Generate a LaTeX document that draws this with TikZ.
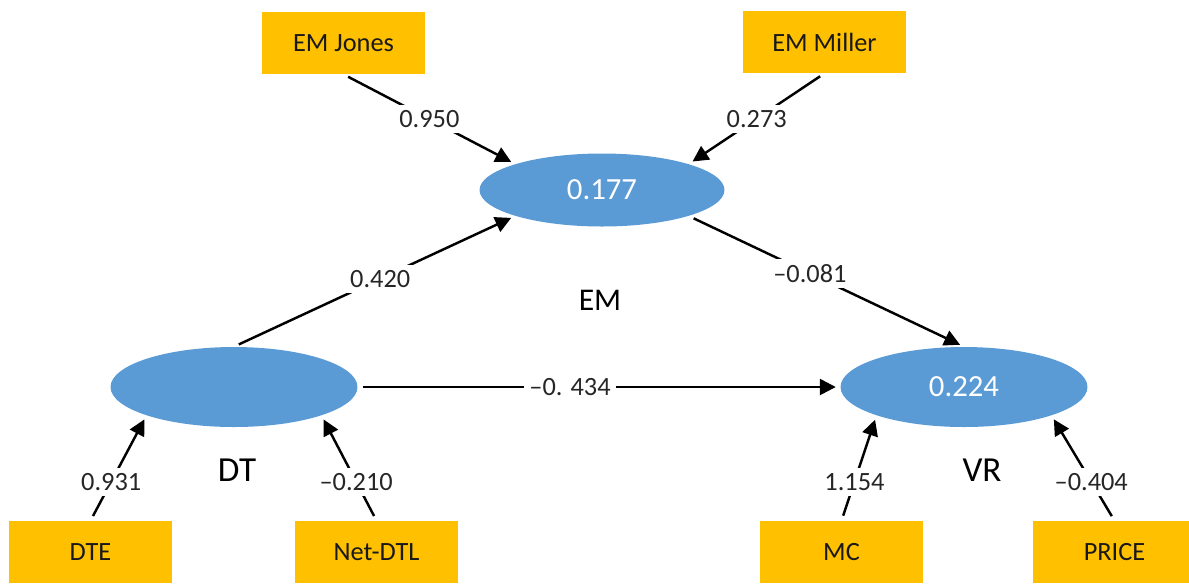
\documentclass[tikz,border=0pt]{standalone}
\usepackage{fontspec}
\setmainfont{Carlito}
\usetikzlibrary{shapes.geometric,arrows.meta}
\definecolor{boxorange}{HTML}{FFC000}
\definecolor{ovalblue}{HTML}{5B9BD5}
\newcommand{\coeffont}{\fontsize{15}{18}\selectfont}

\begin{document}
\begin{tikzpicture}[x=0.02cm,y=-0.02cm,
	>={Triangle[length=9pt,width=9pt]},
	obs/.style={fill=boxorange,minimum width=3.26cm,minimum height=1.24cm,inner sep=0pt,font=\coeffont,text=black!90},
	lat/.style={ellipse,fill=ovalblue,inner sep=0pt,text=white,font=\fontsize{17.5}{21}\selectfont},
	coef/.style={fill=white,inner sep=3pt,font=\coeffont,text=black!85},
	link/.style={->,line width=1.4pt,shorten <=3pt,shorten >=2.5pt}]
	\useasboundingbox (0,0) rectangle (1189,583);
	\node[obs] (jones) at (343.5,43) {EM Jones};
	\node[obs] (miller) at (824.5,42) {EM Miller};
	\node[lat,minimum width=4.9cm,minimum height=1.46cm] (em) at (602,190) {0.177};
	\node[lat,minimum width=4.94cm,minimum height=1.6cm] (dt) at (234,387) {};
	\node[lat,minimum width=4.94cm,minimum height=1.6cm] (vr) at (964,387) {0.224};
	\node[obs] (dte) at (90.5,552) {DTE};
	\node[obs] (netdtl) at (376.5,552) {Net-DTL};
	\node[obs] (mc) at (841.5,552) {MC};
	\node[obs] (price) at (1114.5,552) {PRICE};
	\node[font=\fontsize{18}{22}\selectfont] (emname) at (600,300) {EM};
	\node[font=\fontsize{20}{24}\selectfont] (dtname) at (237,470) {DT};
	\node[font=\fontsize{20}{24}\selectfont] (vrname) at (982,470) {VR};
	%
	\draw [link] (jones.south) to[] node[coef,pos=.5]{0.950} (em.north west);
	\draw [link] (miller.south) to[] node[coef,pos=.5]{0.273} (em.north east);
	\draw [link] (dt.north) to[] node[coef,pos=.52]{0.420} (em.south west);
	\draw [link] (em.south east) to[] node[coef,pos=.44]{\textendash0.081} (vr.north);
	\draw [link] (dt.east) to[] node[coef,pos=.44]{\textendash0. 434} (vr.west);
	\draw [link] (dte.north) to[] node[coef,pos=.37]{0.931} (dt.south west);
	\draw [link] (netdtl.north) to[] node[coef,pos=.37]{\textendash0.210} (dt.south east);
	\draw [link] (mc.north) to[] node[coef,pos=.37]{1.154} (vr.south west);
	\draw [link] (price.north) to[] node[coef,pos=.37]{\textendash0.404} (vr.south east);
\end{tikzpicture}
\end{document}
